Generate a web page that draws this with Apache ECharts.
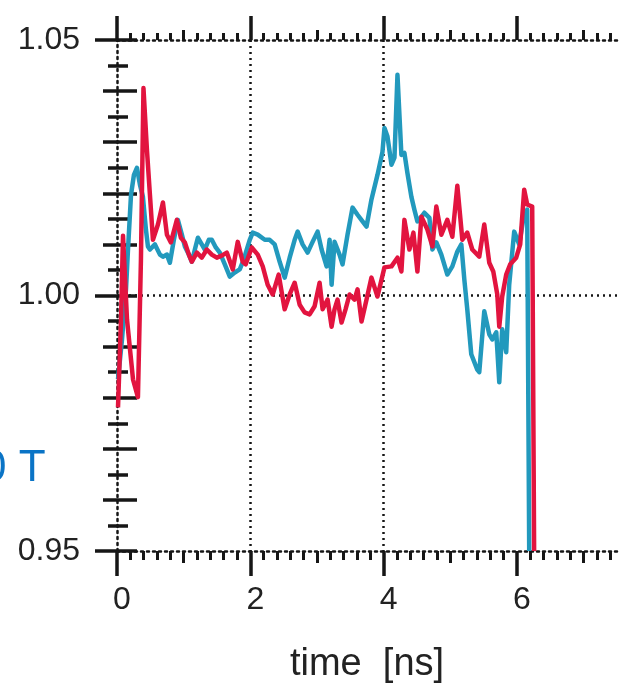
<!DOCTYPE html>
<html>
<head>
<meta charset="utf-8">
<script src="https://cdn.jsdelivr.net/npm/echarts@6/dist/echarts.min.js"></script>
<style>
  html, body { margin: 0; padding: 0; background: #ffffff; }
  #chart { width: 634px; height: 689px; }
</style>
</head>
<body>
<div id="chart"></div>
<script>
// time [ns], normalised value — red trace
const redTime = [0.015,0.060,0.090,0.150,0.240,0.314,0.359,0.397,0.449,0.494,0.539,0.614,0.689,0.749,0.808,0.898,0.958,1.018,1.078,1.123,1.198,1.272,1.347,1.422,1.497,1.572,1.647,1.737,1.811,1.886,1.931,2.021,2.111,2.186,2.260,2.335,2.425,2.515,2.590,2.665,2.740,2.814,2.889,2.964,3.039,3.084,3.159,3.219,3.263,3.308,3.368,3.428,3.488,3.563,3.608,3.668,3.743,3.817,3.907,4.012,4.117,4.207,4.266,4.311,4.386,4.446,4.506,4.566,4.656,4.731,4.790,4.865,4.955,5.030,5.105,5.180,5.254,5.329,5.434,5.509,5.584,5.644,5.704,5.734,5.778,5.838,5.898,5.988,6.048,6.108,6.153,6.228,6.257];
const redValue = [0.9781,0.9953,1.0117,0.9953,0.9836,0.9801,1.0070,1.0406,1.0285,1.0197,1.0109,1.0139,1.0182,1.0119,1.0104,1.0148,1.0113,1.0104,1.0080,1.0066,1.0084,1.0074,1.0090,1.0080,1.0074,1.0078,1.0084,1.0051,1.0105,1.0066,1.0061,1.0094,1.0080,1.0057,1.0021,1.0002,1.0041,0.9973,1.0002,1.0025,0.9982,0.9967,0.9963,0.9979,1.0025,0.9973,0.9992,0.9939,0.9973,0.9992,0.9947,0.9973,1.0002,0.9992,1.0012,0.9949,0.9992,1.0035,0.9998,1.0055,1.0057,1.0074,1.0047,1.0148,1.0090,1.0123,1.0047,1.0154,1.0129,1.0096,1.0174,1.0119,1.0148,1.0115,1.0215,1.0109,1.0123,1.0090,1.0076,1.0139,1.0064,1.0047,1.0002,0.9939,0.9998,1.0041,1.0061,1.0074,1.0100,1.0207,1.0178,1.0174,0.9500];

// time [ns], normalised value — cyan trace
const cyanTime = [0.015,0.075,0.135,0.165,0.210,0.254,0.299,0.344,0.389,0.434,0.464,0.494,0.569,0.644,0.689,0.749,0.793,0.853,0.913,0.973,1.018,1.078,1.123,1.168,1.213,1.272,1.317,1.377,1.422,1.482,1.542,1.617,1.692,1.766,1.841,1.901,1.946,1.991,2.036,2.111,2.216,2.290,2.365,2.440,2.515,2.590,2.665,2.710,2.784,2.859,2.934,3.009,3.069,3.144,3.189,3.219,3.263,3.338,3.383,3.458,3.533,3.608,3.683,3.743,3.817,3.907,3.982,4.012,4.057,4.117,4.162,4.207,4.266,4.311,4.356,4.416,4.461,4.506,4.566,4.611,4.686,4.731,4.790,4.865,4.955,5.030,5.105,5.165,5.210,5.254,5.314,5.404,5.434,5.509,5.584,5.629,5.689,5.734,5.778,5.838,5.883,5.958,6.033,6.093,6.153,6.183];
const cyanValue = [0.9836,0.9914,1.0012,1.0090,1.0197,1.0236,1.0250,1.0217,1.0193,1.0129,1.0096,1.0090,1.0100,1.0080,1.0076,1.0080,1.0064,1.0109,1.0148,1.0119,1.0096,1.0080,1.0066,1.0090,1.0113,1.0100,1.0090,1.0109,1.0109,1.0094,1.0084,1.0061,1.0037,1.0045,1.0051,1.0070,1.0090,1.0109,1.0123,1.0119,1.0109,1.0109,1.0100,1.0066,1.0035,1.0074,1.0109,1.0125,1.0100,1.0084,1.0105,1.0125,1.0090,1.0057,1.0109,1.0021,1.0105,1.0080,1.0061,1.0119,1.0172,1.0158,1.0145,1.0135,1.0188,1.0236,1.0281,1.0328,1.0311,1.0256,1.0270,1.0432,1.0275,1.0279,1.0240,1.0193,1.0168,1.0145,1.0154,1.0162,1.0152,1.0090,1.0104,1.0080,1.0041,1.0057,1.0086,1.0100,1.0031,0.9973,0.9885,0.9855,0.9850,0.9969,0.9924,0.9914,0.9928,0.9830,0.9934,0.9889,1.0021,1.0125,1.0100,1.0148,1.0168,0.9500];

// axis ticks and labels
const xMajorTicks = [0, 2, 4, 6];
const xMidTicks = [1, 3, 5, 7];
const xMinorTicks = [0.2,0.4,0.6,0.8,1.2,1.4,1.6,1.8,2.2,2.4,2.6,2.8,3.2,3.4,3.6,3.8,4.2,4.4,4.6,4.8,5.2,5.4,5.6,5.8,6.2,6.4,6.6,6.8,7.2,7.4];
const yMajorTicks = [0.95, 1.00, 1.05];
const yMidTicks = [0.96,0.97,0.98,0.99,1.01,1.02,1.03,1.04];
const yMinorTicks = [0.955,0.965,0.975,0.985,0.995,1.005,1.015,1.025,1.035,1.045];

const X_MIN = 0, X_MAX = 7.5, Y_MIN = 0.95, Y_MAX = 1.05;
const INK = '#161616';
const DOTS = { color: INK, width: 2.5, type: [2, 4] };
const FONT = '"Liberation Sans", Arial, sans-serif';

function zip(a, b) { return a.map((v, i) => [v, b[i]]); }

function xTickAxis(position, ticks, len, width) {
  return {
    type: 'value', position: position, min: X_MIN, max: X_MAX, gridIndex: 0,
    axisLine: { show: false },
    axisLabel: { show: false },
    splitLine: { show: false },
    axisTick: { show: true, inside: false, length: len, customValues: ticks,
                lineStyle: { color: INK, width: width } }
  };
}
function yTickAxis(position, ticks, len, width) {
  return {
    type: 'value', position: position, min: Y_MIN, max: Y_MAX, gridIndex: 0,
    axisLine: { show: false },
    axisLabel: { show: false },
    splitLine: { show: false },
    axisTick: { show: true, inside: false, length: len, customValues: ticks,
                lineStyle: { color: INK, width: width } }
  };
}

const chart = echarts.init(document.getElementById('chart'), null, { renderer: 'canvas' });

chart.setOption({
  animation: false,
  backgroundColor: '#ffffff',
  grid: { left: 117, right: 17, top: 40, bottom: 137, containLabel: false },
  xAxis: [
    {
      type: 'value', position: 'bottom', min: X_MIN, max: X_MAX, interval: 2,
      name: 'time  [ns]', nameLocation: 'middle', nameGap: 95,
      nameTextStyle: { fontFamily: FONT, fontSize: 38, color: '#222' },
      axisLine: { show: true, onZero: false, lineStyle: DOTS },
      axisTick: { show: true, inside: false, length: 25, customValues: xMajorTicks,
                  lineStyle: { color: INK, width: 3.5 } },
      axisLabel: { show: true, customValues: xMajorTicks, margin: 33, padding: [0, 0, 0, 10],
                   fontFamily: FONT, fontSize: 32, color: '#222' },
      splitLine: { show: true, showMinLine: false, showMaxLine: false, lineStyle: DOTS }
    },
    xTickAxis('bottom', xMidTicks, 12, 3),
    xTickAxis('bottom', xMinorTicks, 9, 3),
    {
      type: 'value', position: 'top', min: X_MIN, max: X_MAX,
      axisLine: { show: true, onZero: false, lineStyle: DOTS },
      axisTick: { show: true, inside: false, length: 24, customValues: xMajorTicks,
                  lineStyle: { color: INK, width: 3.5 } },
      axisLabel: { show: false },
      splitLine: { show: false }
    },
    xTickAxis('top', xMidTicks, 10, 3),
    xTickAxis('top', xMinorTicks, 7, 3)
  ],
  yAxis: [
    {
      type: 'value', position: 'left', min: Y_MIN, max: Y_MAX, interval: 0.05,
      axisLine: { show: true, onZero: false, lineStyle: DOTS },
      axisTick: { show: true, inside: false, length: 22, customValues: yMajorTicks,
                  lineStyle: { color: INK, width: 3.5 } },
      axisLabel: { show: true, customValues: yMajorTicks, margin: 37,
                   formatter: v => v.toFixed(2),
                   fontFamily: FONT, fontSize: 32, color: '#222' },
      splitLine: { show: true, showMinLine: false, showMaxLine: false, lineStyle: DOTS }
    },
    yTickAxis('left', yMidTicks, 14, 3.5),
    yTickAxis('left', yMinorTicks, 9, 3.5),
    yTickAxis('right', yMajorTicks.concat(yMidTicks), 20, 3.5),
    yTickAxis('right', yMinorTicks, 11, 3.5)
  ],
  graphic: [
    {
      type: 'text', left: -18, top: 447,
      style: { text: '0 T', fontFamily: FONT, fontSize: 44, fill: '#0a74c6' }
    }
  ],
  series: [
    {
      name: 'cyan', type: 'line', xAxisIndex: 0, yAxisIndex: 0,
      data: zip(cyanTime, cyanValue), showSymbol: false, symbol: 'none',
      lineStyle: { color: '#2299bd', width: 4.5, join: 'round' }, z: 3
    },
    {
      name: 'red', type: 'line', xAxisIndex: 0, yAxisIndex: 0,
      data: zip(redTime, redValue), showSymbol: false, symbol: 'none',
      lineStyle: { color: '#e2143f', width: 4.5, join: 'round' }, z: 4
    }
  ]
});
</script>
</body>
</html>
